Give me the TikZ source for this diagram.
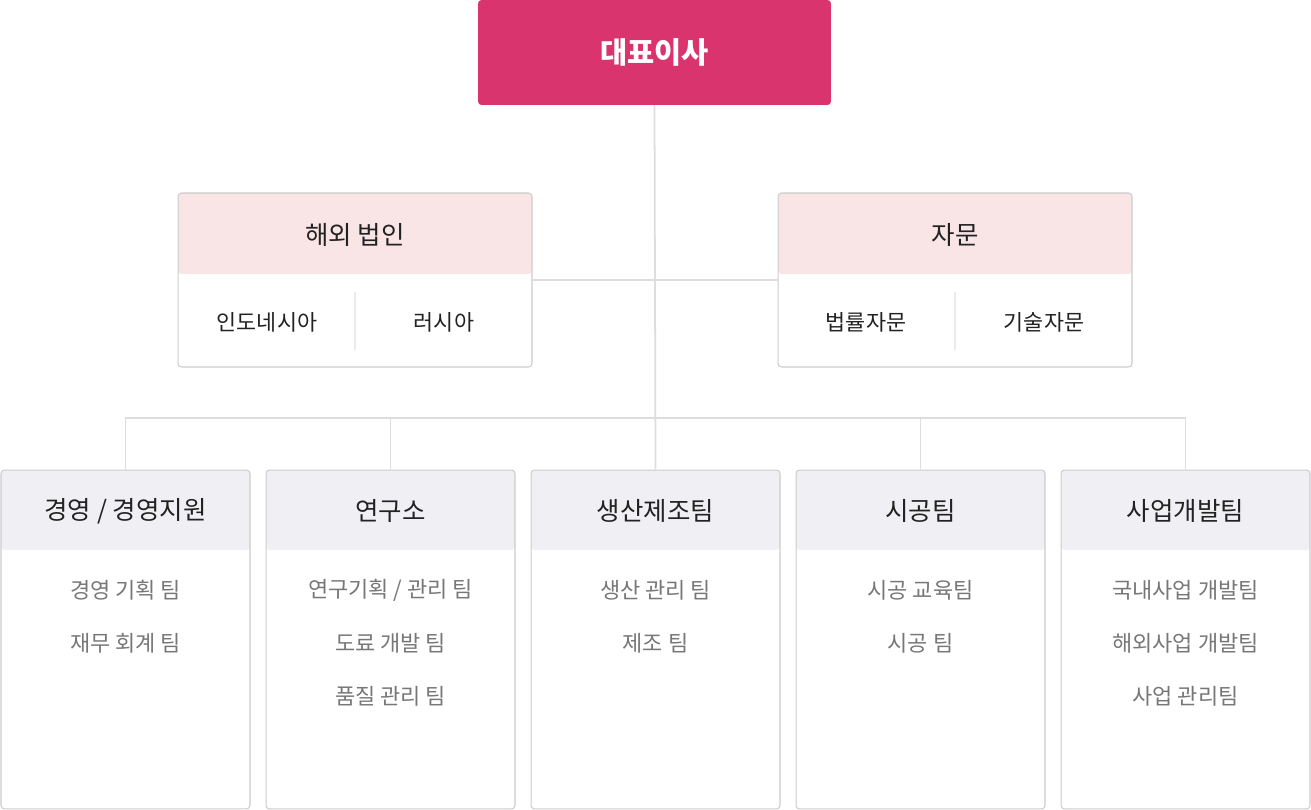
\documentclass[tikz,border=0pt]{standalone}
\usepackage{fontspec}
\setmainfont{Noto Sans CJK KR}
\usepackage{xcolor}
\usepackage{tikz}
\usetikzlibrary{positioning,calc}
\definecolor{rosa}{HTML}{D9346E}
\definecolor{rosaclaro}{HTML}{F9E5E6}
\definecolor{cinzaclaro}{HTML}{F0F0F4}
\definecolor{borda}{HTML}{CCCCCC}
\definecolor{traco}{HTML}{DDDDDD}
\definecolor{textoescuro}{HTML}{222222}
\definecolor{textocinza}{HTML}{777777}
\tikzset{
    topo/.style={
        rectangle,
        fill=rosa,
        rounded corners=2pt,
        inner sep=0pt,
        minimum width=7.06cm,
        minimum height=2.1cm,
        text=white,
        font=\fontsize{16.8}{18}\selectfont\bfseries
    },
    grupo/.style={
        rectangle,
        draw=borda,
        line width=0.6pt,
        rounded corners=2pt,
        inner sep=0pt,
        minimum width=7.08cm,
        minimum height=3.48cm,
        path picture={\fill[rosaclaro] (path picture bounding box.north west) rectangle ([yshift=-1.62cm]path picture bounding box.north east);}
    },
    depto/.style={
        rectangle,
        draw=borda,
        line width=0.6pt,
        rounded corners=2pt,
        inner sep=0pt,
        minimum width=4.98cm,
        minimum height=6.78cm,
        path picture={\fill[cinzaclaro] (path picture bounding box.north west) rectangle ([yshift=-1.6cm]path picture bounding box.north east);}
    },
    titulo/.style={text=textoescuro, font=\fontsize{14.5}{16}\selectfont},
    membro/.style={text=textoescuro, font=\fontsize{12.4}{14}\selectfont},
    equipe/.style={text=textocinza, font=\fontsize{12.5}{14}\selectfont},
    linha/.style={draw=traco, line width=1pt},
    divisor/.style={draw=traco!60, line width=0.6pt}
}

\begin{document}
\begin{tikzpicture}[x=0.02cm, y=-0.02cm]
    \useasboundingbox[fill=white] (0,0) rectangle (1311,810);

    \coordinate (barra) at (655,418);
    \node[topo] (ceo) at (654.5,52.5) {대표이사};
    \node[grupo] (exterior) at (355,280) {};
    \node[grupo] (consultoria) at (955,280) {};
    \node[depto] (gestao) at (125.5,639.5) {};
    \node[depto] (pesquisa) at (390.5,639.5) {};
    \node[depto] (producao) at (655.5,639.5) {};
    \node[depto] (obra) at (920.5,639.5) {};
    \node[depto] (negocios) at (1185.5,639.5) {};

    % ligacoes
    \draw[linha] (ceo.south) -- (producao.north);
    \draw[linha] (exterior.east) -- (consultoria.west);
    \draw[linha] (gestao.north) |- (barra) -| (negocios.north);
    \draw[linha] (pesquisa.north) -- (pesquisa.north |- barra);
    \draw[linha] (obra.north) -- (obra.north |- barra);

    % grupos do meio
    \node[titulo] (exteriorT) at (355,235) {해외 법인};
    \node[membro] (indonesia) at (267,322) {인도네시아};
    \node[membro] (russia) at (444,322) {러시아};
    \coordinate (exteriorA) at (355,292);
    \coordinate (exteriorB) at (355,350);
    \draw[divisor] (exteriorA) -- (exteriorB);

    \node[titulo] (consultoriaT) at (955,235) {자문};
    \node[membro] (juridica) at (866,322) {법률자문};
    \node[membro] (tecnica) at (1044,322) {기술자문};
    \coordinate (consultoriaA) at (955,292);
    \coordinate (consultoriaB) at (955,350);
    \draw[divisor] (consultoriaA) -- (consultoriaB);

    % departamentos
    \node[titulo] (gestaoT) at (125.5,511) {경영 / 경영지원};
    \node[equipe] (gestao1) at (125.5,590) {경영 기획 팀};
    \node[equipe] (gestao2) at (125.5,643) {재무 회계 팀};

    \node[titulo] (pesquisaT) at (390.5,511) {연구소};
    \node[equipe] (pesquisa1) at (390.5,590) {연구기획 / 관리 팀};
    \node[equipe] (pesquisa2) at (390.5,643) {도료 개발 팀};
    \node[equipe] (pesquisa3) at (390.5,696) {품질 관리 팀};

    \node[titulo] (producaoT) at (655.5,511) {생산제조팀};
    \node[equipe] (producao1) at (655.5,590) {생산 관리 팀};
    \node[equipe] (producao2) at (655.5,643) {제조 팀};

    \node[titulo] (obraT) at (920.5,511) {시공팀};
    \node[equipe] (obra1) at (920.5,590) {시공 교육팀};
    \node[equipe] (obra2) at (920.5,643) {시공 팀};

    \node[titulo] (negociosT) at (1185.5,511) {사업개발팀};
    \node[equipe] (negocios1) at (1185.5,590) {국내사업 개발팀};
    \node[equipe] (negocios2) at (1185.5,643) {해외사업 개발팀};
    \node[equipe] (negocios3) at (1185.5,696) {사업 관리팀};
\end{tikzpicture}
\end{document}
